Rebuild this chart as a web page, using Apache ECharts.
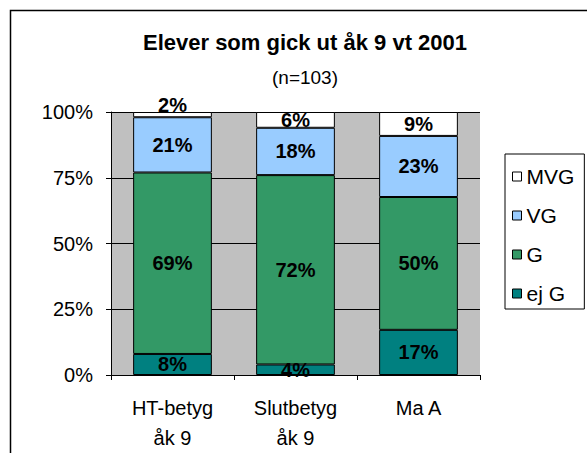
<!DOCTYPE html>
<html>
<head>
<meta charset="utf-8">
<script src="https://cdn.jsdelivr.net/npm/echarts@6/dist/echarts.min.js"></script>
<style>
  html, body { margin: 0; padding: 0; background: #fff; }
  #chart { width: 587px; height: 453px; }
</style>
</head>
<body>
<div id="chart"></div>
<script>
// Grade distribution per assessment (percent of students)
const categories = ['HT-betyg\nåk 9', 'Slutbetyg\nåk 9', 'Ma A'];
const ejG = [8, 4, 17];
const G = [69, 72, 50];
const VG = [21, 18, 23];
const MVG = [2, 6, 9];
const yTicks = [0, 25, 50, 75, 100];

const FONT = '"Liberation Sans", Arial, sans-serif';

// Each column is scaled to 100% of its own total
const seriesDefs = [
  { name: 'ej G', values: ejG, color: '#008080' },
  { name: 'G', values: G, color: '#339966' },
  { name: 'VG', values: VG, color: '#99CCFF' },
  { name: 'MVG', values: MVG, color: '#FFFFFF' }
];
const totals = categories.map((_, i) =>
  seriesDefs.reduce((s, d) => s + d.values[i], 0));

const series = seriesDefs.map(d => ({
  name: d.name,
  type: 'bar',
  stack: 'all',
  barWidth: '64%',
  itemStyle: { color: d.color, borderColor: '#000', borderWidth: 1 },
  label: {
    show: true,
    position: 'inside',
    color: '#000',
    fontFamily: FONT,
    fontWeight: 'bold',
    fontSize: 20,
    formatter: p => d.values[p.dataIndex] + '%'
  },
  data: d.values.map((v, i) => {
    const item = { value: v / totals[i] * 100 };
    // very thin segments get their label lifted above the column top
    if (v < 3) item.label = { offset: [0, -10] };
    return item;
  })
}));

const chart = echarts.init(document.getElementById('chart'), null, { renderer: 'svg' });
chart.setOption({
  animation: false,
  backgroundColor: '#fff',
  title: [
    {
      text: 'Elever som gick ut åk 9 vt 2001',
      left: 305, top: 31, textAlign: 'center', padding: 0,
      textStyle: { fontFamily: FONT, fontWeight: 'bold', fontSize: 22, color: '#000' }
    },
    {
      text: '(n=103)',
      left: 305, top: 68, textAlign: 'center', padding: 0,
      textStyle: { fontFamily: FONT, fontWeight: 'normal', fontSize: 19, color: '#000' }
    }
  ],
  graphic: [
    {
      type: 'rect', silent: true, z: 100,
      shape: { x: 10.5, y: 10.5, width: 700, height: 600 },
      style: { fill: 'none', stroke: '#000', lineWidth: 1.5 }
    }
  ],
  legend: {
    data: ['MVG', 'VG', 'G', 'ej G'],
    orient: 'vertical',
    left: 505, top: 154,
    padding: [12, 10, 5, 7],
    itemGap: 18,
    itemWidth: 9, itemHeight: 9,
    icon: 'rect',
    borderColor: '#000', borderWidth: 1,
    itemStyle: { borderColor: '#000', borderWidth: 1 },
    textStyle: { fontFamily: FONT, fontSize: 21, color: '#000', lineHeight: 20, padding: [0, 0, 0, 0] }
  },
  grid: {
    left: 111, right: 107, top: 112, bottom: 76,
    show: true, backgroundColor: '#C0C0C0', borderWidth: 0
  },
  xAxis: {
    type: 'category',
    data: categories,
    axisLine: { lineStyle: { color: '#000', width: 1 } },
    axisTick: { show: true, alignWithLabel: false, length: 5, lineStyle: { color: '#000' } },
    axisLabel: { color: '#000', fontFamily: FONT, fontSize: 20, lineHeight: 30, margin: 18 }
  },
  yAxis: {
    type: 'value',
    min: yTicks[0], max: yTicks[yTicks.length - 1], interval: 25,
    axisLine: { show: true, lineStyle: { color: '#000', width: 1 } },
    axisTick: { show: true, length: 5, lineStyle: { color: '#000' } },
    axisLabel: { color: '#000', fontFamily: FONT, fontSize: 20, margin: 18, formatter: '{value}%' },
    splitLine: { show: true, lineStyle: { color: '#000', width: 1 } }
  },
  series: series
});
</script>
</body>
</html>
